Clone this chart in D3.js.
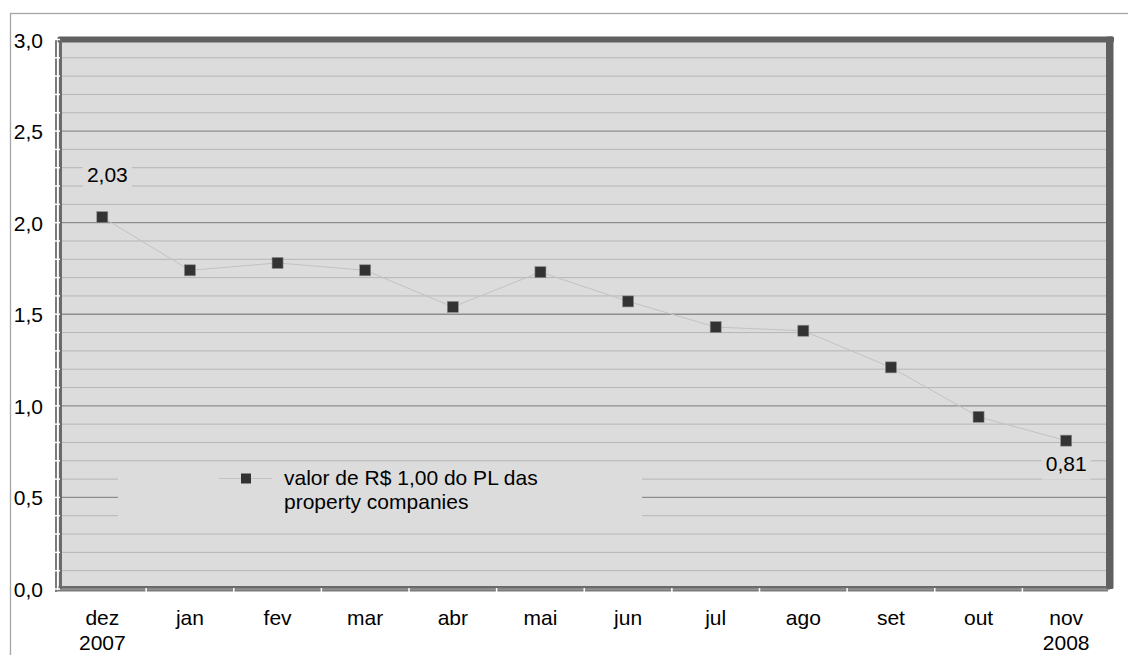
<!DOCTYPE html>
<html>
<head>
<meta charset="utf-8">
<script src="https://cdn.jsdelivr.net/npm/d3@7/dist/d3.min.js"></script>
<style>
  html, body { margin: 0; padding: 0; background: #ffffff; }
  svg { display: block; }
  text { font-family: "Liberation Sans", Arial, sans-serif; fill: #000; }
</style>
</head>
<body>
<svg id="chart" width="1128" height="655"></svg>
<script>
// Monthly series: value of R$ 1,00 of property companies' equity (PL)
const months = ["dez", "jan", "fev", "mar", "abr", "mai", "jun", "jul", "ago", "set", "out", "nov"];
const years  = ["2007", "", "", "", "", "", "", "", "", "", "", "2008"];
const values = [2.03, 1.74, 1.78, 1.74, 1.54, 1.73, 1.57, 1.43, 1.41, 1.21, 0.94, 0.81];
const majorTicks = [0, 0.5, 1.0, 1.5, 2.0, 2.5, 3.0];
const minorTicks = d3.range(0, 31).map(i => i / 10);
const labelledPoints = [0, 11];
const seriesName = ["valor de R$ 1,00 do PL das", "property companies"];

const fmtAxis = v => v.toFixed(1).replace(".", ",");
const fmtVal = v => v.toFixed(2).replace(".", ",");

const svg = d3.select("#chart");
const plot = { left: 58.5, right: 1110, top: 39.5, bottom: 589 };

const x = d3.scaleBand().domain(months).range([plot.left, plot.right]);
const y = d3.scaleLinear().domain([0, 3]).range([plot.bottom, plot.top]);

// outer chart frame
svg.append("rect")
  .attr("x", 10.5).attr("y", 13.5).attr("width", 1130).attr("height", 700)
  .attr("fill", "none").attr("stroke", "#a6a6a6").attr("stroke-width", 1.3);

// plot background
svg.append("rect")
  .attr("x", plot.left).attr("y", plot.top)
  .attr("width", plot.right - plot.left).attr("height", plot.bottom - plot.top)
  .attr("fill", "#dcdcdc");

// gridlines: every 0.1, darker every 0.5
const isMajor = v => Math.abs(v * 2 - Math.round(v * 2)) < 1e-6;
svg.append("g").selectAll("line")
  .data(minorTicks)
  .join("line")
  .attr("x1", plot.left).attr("x2", plot.right)
  .attr("y1", d => y(d)).attr("y2", d => y(d))
  .attr("stroke", d => isMajor(d) ? "#8e8e8e" : "#b6b6b6")
  .attr("stroke-width", d => isMajor(d) ? 1.4 : 1);

// legend box (covers the gridlines)
const legend = svg.append("g");
legend.append("rect")
  .attr("x", 118).attr("y", 469).attr("width", 524).attr("height", 56)
  .attr("fill", "#dcdcdc");
legend.append("line")
  .attr("x1", 219).attr("x2", 272).attr("y1", 478.5).attr("y2", 478.5)
  .attr("stroke", "#c4c4c4").attr("stroke-width", 1);
legend.append("rect")
  .attr("x", 241).attr("y", 473.5).attr("width", 10).attr("height", 10)
  .attr("fill", "#333333");
legend.selectAll("text.leg")
  .data(seriesName)
  .join("text")
  .attr("class", "leg")
  .attr("x", 284).attr("y", (d, i) => 485 + i * 24)
  .attr("font-size", 21)
  .text(d => d);

// data labels with background boxes
const labG = svg.append("g");
labelledPoints.forEach(i => {
  const cx = x(months[i]) + x.bandwidth() / 2;
  const above = i === 0;
  const tx = above ? cx + 5 : cx;
  const base = above ? y(values[i]) - 35 : y(values[i]) + 30;
  const t = labG.append("text")
    .attr("x", tx).attr("y", base)
    .attr("text-anchor", "middle")
    .attr("font-size", 21)
    .text(fmtVal(values[i]));
  const bb = t.node().getBBox();
  labG.insert("rect", "text")
    .attr("x", bb.x - 4).attr("y", bb.y - 5)
    .attr("width", bb.width + 8).attr("height", bb.height + 10)
    .attr("fill", "#dcdcdc");
});

// series line
const line = d3.line()
  .x((d, i) => x(months[i]) + x.bandwidth() / 2)
  .y(d => y(d));
svg.append("path")
  .datum(values)
  .attr("d", line)
  .attr("fill", "none")
  .attr("stroke", "#c2c2c2")
  .attr("stroke-width", 1);

// markers
svg.append("g").selectAll("rect")
  .data(values)
  .join("rect")
  .attr("x", (d, i) => x(months[i]) + x.bandwidth() / 2 - 5.5)
  .attr("y", d => y(d) - 5.5)
  .attr("width", 11).attr("height", 11)
  .attr("fill", "#333333")
  .attr("stroke", "#8a8a8a").attr("stroke-width", 0.6);

// plot borders: heavy on top and right, lighter on left and bottom
const border = svg.append("g");
border.append("rect")
  .attr("x", plot.left - 1).attr("y", plot.top - 3)
  .attr("width", plot.right - plot.left + 5).attr("height", 6)
  .attr("rx", 1.5)
  .attr("fill", "#606060");
border.append("rect")
  .attr("x", plot.right - 4).attr("y", plot.top - 3)
  .attr("width", 7.5).attr("height", plot.bottom - plot.top + 3)
  .attr("rx", 1.5)
  .attr("fill", "#606060");
border.append("rect")
  .attr("x", plot.left + 0.5).attr("y", plot.top)
  .attr("width", 3).attr("height", plot.bottom - plot.top)
  .attr("fill", "#6a6a6a");
border.append("rect")
  .attr("x", plot.left).attr("y", plot.bottom - 3)
  .attr("width", plot.right - plot.left - 3).attr("height", 2.5)
  .attr("fill", "#6a6a6a");

// axis lines outside the plot with white tick marks
border.append("line")
  .attr("x1", plot.left - 2.5).attr("x2", plot.left - 2.5)
  .attr("y1", plot.top).attr("y2", plot.bottom + 3)
  .attr("stroke", "#7a7a7a").attr("stroke-width", 2);
border.append("line")
  .attr("x1", plot.left - 2).attr("x2", plot.right - 2)
  .attr("y1", plot.bottom + 1.5).attr("y2", plot.bottom + 1.5)
  .attr("stroke", "#7a7a7a").attr("stroke-width", 2);
border.append("g").selectAll("line")
  .data(minorTicks)
  .join("line")
  .attr("x1", plot.left - 4).attr("x2", plot.left + 1.5)
  .attr("y1", d => y(d)).attr("y2", d => y(d))
  .attr("stroke", "#ffffff").attr("stroke-width", 1.5);
border.append("g").selectAll("line")
  .data(months.slice(1))
  .join("line")
  .attr("x1", d => x(d)).attr("x2", d => x(d))
  .attr("y1", plot.bottom - 1).attr("y2", plot.bottom + 3)
  .attr("stroke", "#ffffff").attr("stroke-width", 1.5);

// y axis labels
const yAxis = d3.axisLeft(y)
  .tickValues(majorTicks)
  .tickFormat(fmtAxis)
  .tickSize(0)
  .tickPadding(15.5);
const yG = svg.append("g")
  .attr("transform", `translate(${plot.left},0)`)
  .call(yAxis);
yG.select(".domain").remove();
yG.selectAll("text")
  .attr("font-size", 21)
  .attr("font-family", "Liberation Sans, Arial, sans-serif")
  .attr("fill", "#000")
  .attr("dy", "0.36em");

// x axis labels (month, with year on the first and last)
const xAxis = d3.axisBottom(x).tickSize(0).tickFormat("");
const xG = svg.append("g")
  .attr("transform", `translate(0,${plot.bottom})`)
  .call(xAxis);
xG.select(".domain").remove();
xG.selectAll(".tick").each(function (d, i) {
  const t = d3.select(this).append("text")
    .attr("text-anchor", "middle")
    .attr("font-size", 21)
    .attr("font-family", "Liberation Sans, Arial, sans-serif")
    .attr("fill", "#000");
  t.append("tspan").attr("x", 0).attr("y", 36).text(d);
  if (years[i]) t.append("tspan").attr("x", 0).attr("y", 61).text(years[i]);
});
</script>
</body>
</html>
